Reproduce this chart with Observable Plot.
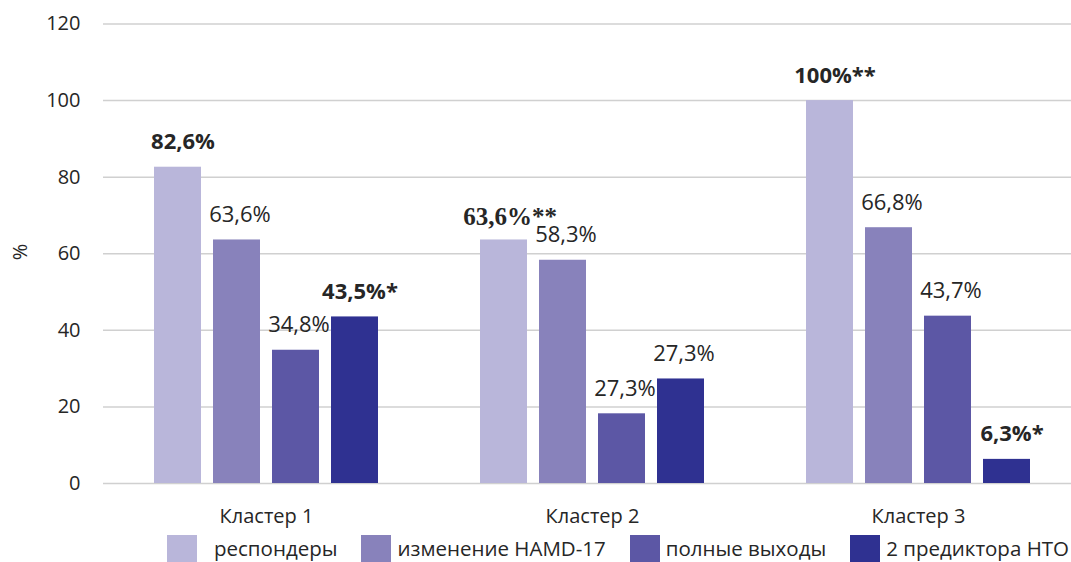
<!DOCTYPE html>
<html><head><meta charset="utf-8">
<script src="https://cdn.jsdelivr.net/npm/d3@7"></script>
<script src="https://cdn.jsdelivr.net/npm/@observablehq/plot@0.6"></script>
<style>
body{margin:0;background:#fff;font-family:"Open Sans",sans-serif;color:#262626;}
#chart{width:1071px;height:562px;overflow:hidden;position:relative}
.legend{display:flex;align-items:flex-start;margin-left:167px;margin-top:3px;font-size:20.5px;line-height:30px;white-space:nowrap}
.item{display:flex;align-items:flex-start;margin-right:24px}
.sw{width:30px;height:30px;margin-top:2px;margin-right:6px;flex:none}
.item:first-child span{margin-left:11px}
.ylabel{position:absolute;left:20px;top:252px;font-size:20px;line-height:20px;transform:translate(-50%,-50%) rotate(-90deg);white-space:nowrap}
</style></head><body><div id="chart"></div>
<script>
const clusters = ["Кластер 1", "Кластер 2", "Кластер 3"];
const series = ["респондеры", "изменение HAMD-17", "полные выходы", "2 предиктора НТО"];
const cluster1 = [82.6, 63.6, 34.8, 43.5];
const cluster2 = [63.6, 58.3, 18.2, 27.3];
const cluster3 = [100, 66.8, 43.7, 6.3];
const labels1 = ["82,6%", "63,6%", "34,8%", "43,5%*"];
const labels2 = ["63,6%**", "58,3%", "27,3%", "27,3%"];
const labels3 = ["100%**", "66,8%", "43,7%", "6,3%*"];
const yTicks = [0, 20, 40, 60, 80, 100, 120];
const yLabel = "%";
const colors = ["#b9b6da", "#8882bb", "#5c57a5", "#2f3191"];
const boldLabels = ["82,6%", "43,5%*", "100%**", "6,3%*"];
const serifLabels = ["63,6%**"];

const values = [cluster1, cluster2, cluster3];
const labels = [labels1, labels2, labels3];
const rows = clusters.flatMap((c, i) => series.map((s, j) => ({cluster: c, series: s, value: values[i][j], label: labels[i][j]})));
const isSerif = d => serifLabels.includes(d.label);
const isBold = d => boldLabels.includes(d.label);
const isPlain = d => !isSerif(d) && !isBold(d);

const plot = Plot.plot({
  width: 1071, height: 530,
  marginTop: 23.5, marginBottom: 47, marginLeft: 102, marginRight: 0,
  style: {fontFamily: '"Open Sans", sans-serif', fontSize: "20px", color: "#262626", background: "transparent", overflow: "visible"},
  fx: {domain: clusters, range: [102, 1081], padding: 0, label: null, tickSize: 0, tickPadding: 25, axis: "bottom"},
  x: {domain: series, axis: null, paddingInner: 0.203, paddingOuter: 0.864},
  y: {domain: [0, 120], ticks: yTicks, tickSize: 0, tickPadding: 23, label: null},
  color: {domain: series, range: colors},
  marks: [
    Plot.gridY(yTicks, {stroke: "#d0d0d0", strokeOpacity: 1, strokeWidth: 1.5}),
    Plot.barY(rows, {fx: "cluster", x: "series", y: "value", fill: "series"}),
    Plot.text(rows.filter(isPlain), {fx: "cluster", x: "series", y: "value", text: "label", dy: -25, dx: 3, fontSize: 22, fill: "#262626"}),
    Plot.text(rows.filter(isBold), {fx: "cluster", x: "series", y: "value", text: "label", dy: -25, dx: 5, fontSize: 22, fontWeight: "bold", fill: "#262626"}),
    Plot.text(rows.filter(isSerif), {fx: "cluster", x: "series", y: "value", text: "label", dy: -23, dx: 6, fontSize: 25, fontWeight: "bold", fontFamily: '"Liberation Serif", serif', fill: "#262626"})
  ]
});
const chart = document.getElementById("chart");
chart.appendChild(plot);
d3.select(chart).append("div").attr("class", "ylabel").text(yLabel);
const legend = d3.select(chart).append("div").attr("class", "legend");
series.forEach((s, i) => {
  const item = legend.append("div").attr("class", "item");
  item.append("div").attr("class", "sw").style("background", colors[i]);
  item.append("span").text(s);
});
</script></body></html>
